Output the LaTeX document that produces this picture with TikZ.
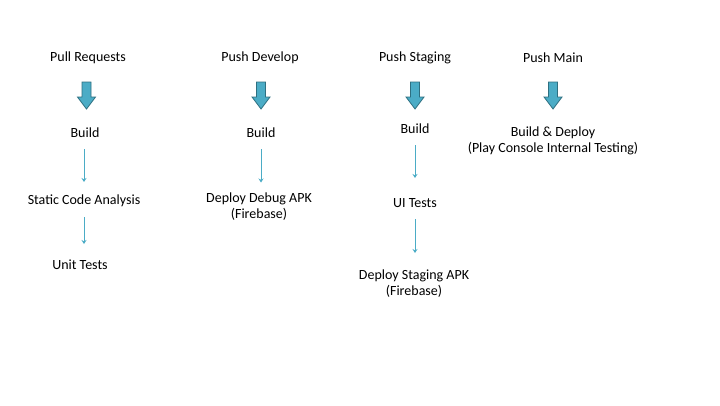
\documentclass[tikz,border=0pt]{standalone}
\usepackage{fontspec}
\setmainfont{Carlito}
\usepackage{xcolor}
\usetikzlibrary{arrows.meta}

\definecolor{flowteal}{HTML}{4BACC6}
\definecolor{flowedge}{HTML}{2E6F80}

% block arrow pointing down, top centre at #1
\newcommand{\bigdown}[1]{%
  \draw[draw=flowedge, fill=flowteal, line width=0.8pt]
    (#1) ++(-4.5,0) -- ++(0,15) -- ++(-4.5,0) -- ++(9,12) -- ++(9,-12)
    -- ++(-4.5,0) -- ++(0,-15) -- cycle;}

\begin{document}
\begin{tikzpicture}[x=1pt, y=-1pt,
  lbl/.style={font=\fontsize{14}{16}\selectfont, align=center, inner sep=0pt},
  thin/.style={-{Stealth[length=4pt, width=5pt]}, draw=flowteal, line width=0.7pt,
    shorten <=16pt}]

\useasboundingbox (0,0) rectangle (720,405);

% Pull Requests
\node[lbl] (pr) at (88,58) {Pull Requests};
\coordinate (pra) at (86.5,82);
\bigdown{pra}
\node[lbl] (prbuild) at (85,133) {Build};
\node[lbl] (prsca) at (84,201) {Static Code Analysis};
\node[lbl] (prunit) at (80,265) {Unit Tests};
\draw[thin, shorten >=19pt] (prsca.center |- prbuild.center) -- (prsca.center);
\draw[thin, shorten >=21pt] (prsca.center) -- (prsca.center |- prunit.center);

% Push Develop
\node[lbl] (dev) at (260,58) {Push Develop};
\coordinate (deva) at (261,82);
\bigdown{deva}
\node[lbl] (devbuild) at (261,133) {Build};
\node[lbl] (devdeploy) at (259,206.5) {Deploy Debug APK\\(Firebase)};
\draw[thin, shorten >=24pt] (devbuild.center) -- (devbuild.center |- devdeploy.center);

% Push Staging
\node[lbl] (stg) at (415,58) {Push Staging};
\coordinate (stga) at (415,82);
\bigdown{stga}
\node[lbl] (stgbuild) at (415,129) {Build};
\node[lbl] (stgui) at (415,203) {UI Tests};
\node[lbl] (stgdeploy) at (414,284) {Deploy Staging APK\\(Firebase)};
\draw[thin, shorten >=25pt] (stgbuild.center) -- (stgui.center);
\draw[thin, shorten >=31pt] (stgui.center) -- (stgui.center |- stgdeploy.center);

% Push Main
\node[lbl] (main) at (553,58) {Push Main};
\coordinate (maina) at (553,82);
\bigdown{maina}
\node[lbl] (mainbuild) at (553,140.5) {Build \& Deploy\\(Play Console Internal Testing)};

\end{tikzpicture}
\end{document}
